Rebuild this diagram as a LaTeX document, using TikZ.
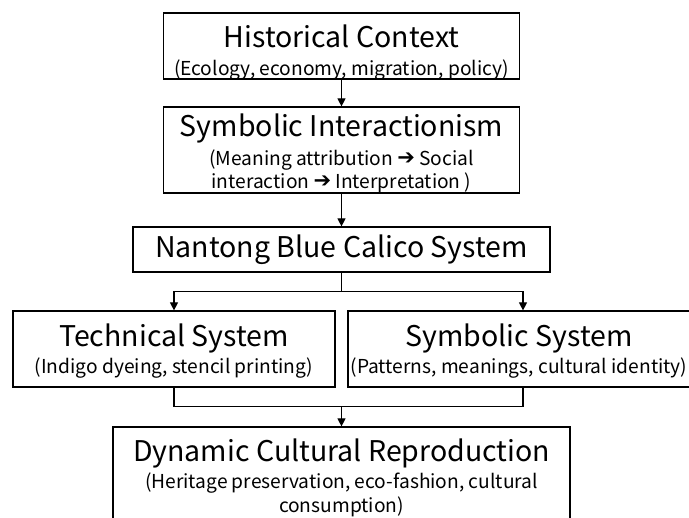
\documentclass[tikz,border=0pt]{standalone}
\usepackage{fontspec}
\setmainfont{Noto Sans CJK SC}
\newfontfamily\symfont{DejaVu Sans}
\usetikzlibrary{arrows.meta,calc}
\tikzset{
  boxnode/.style={draw=black, line width=1.2pt, rectangle, inner sep=0pt, anchor=center},
  ttlnode/.style={inner sep=0pt, anchor=center, font=\fontsize{28.5}{32}\selectfont},
  subnode/.style={inner sep=0pt, anchor=center, align=center, font=\fontsize{19.2}{23.5}\selectfont},
  arr/.style={-{Triangle[length=8pt,width=8pt]}, line width=1.2pt},
  conn/.style={line width=1.2pt},
}
\newcommand{\rarr}{\raisebox{1pt}{\symfont\fontsize{21}{21}\selectfont ➔}}
\begin{document}
\begin{tikzpicture}[x=1pt,y=-1pt]
\useasboundingbox (0,0) rectangle (689,518);
\clip (0,0) rectangle (689,518);
% boxes
\node[boxnode, minimum width=356pt, minimum height=66pt] (h) at (341.5,46) {};
\node[boxnode, minimum width=356pt, minimum height=86pt] (s) at (341.5,150) {};
\node[boxnode, minimum width=417pt, minimum height=45pt] (n) at (341.5,249.5) {};
\node[boxnode, minimum width=322pt, minimum height=76pt] (t) at (174,349) {};
\node[boxnode, minimum width=350pt, minimum height=76pt] (y) at (523,349) {};
\node[boxnode, minimum width=457pt, minimum height=110pt] (d) at (341.5,482) {};
% texts
\node[ttlnode] (ht) at (341.5,36) {Historical Context};
\node[subnode] (hs) at (341.5,70) {(Ecology, economy, migration, policy)};
\node[ttlnode] (st) at (341.5,128) {Symbolic Interactionism};
\node[subnode] (ss) at (341.5,171.5) {(Meaning attribution \rarr\ Social\\interaction \rarr\ Interpretation )};
\node[ttlnode] (nt) at (341.5,250) {Nantong Blue Calico System};
\node[ttlnode] (tt) at (174,338) {Technical System};
\node[subnode] (ts) at (174,368) {(Indigo dyeing, stencil printing)};
\node[ttlnode] (yt) at (519,338) {Symbolic System};
\node[subnode] (ys) at (519,368) {(Patterns, meanings, cultural identity)};
\node[ttlnode] (dt) at (341.5,453) {Dynamic Cultural Reproduction};
\node[subnode] (ds) at (341.5,495) {(Heritage preservation, eco-fashion, cultural\\consumption)};
% connectors
\draw[arr] (h.south) -- (s.north);
\draw[arr] (s.south) -- (n.north);
\coordinate (b) at ($(n.south)+(0,19)$);
\draw[arr] (n.south) -- (b) -| (t.north);
\draw[arr] (b) -| (y.north);
\coordinate (m) at ($(d.north)+(0,-20)$);
\draw[conn] (t.south) |- (m);
\draw[conn] (y.south) |- (m);
\draw[arr] (m) -- (d.north);
\end{tikzpicture}
\end{document}
